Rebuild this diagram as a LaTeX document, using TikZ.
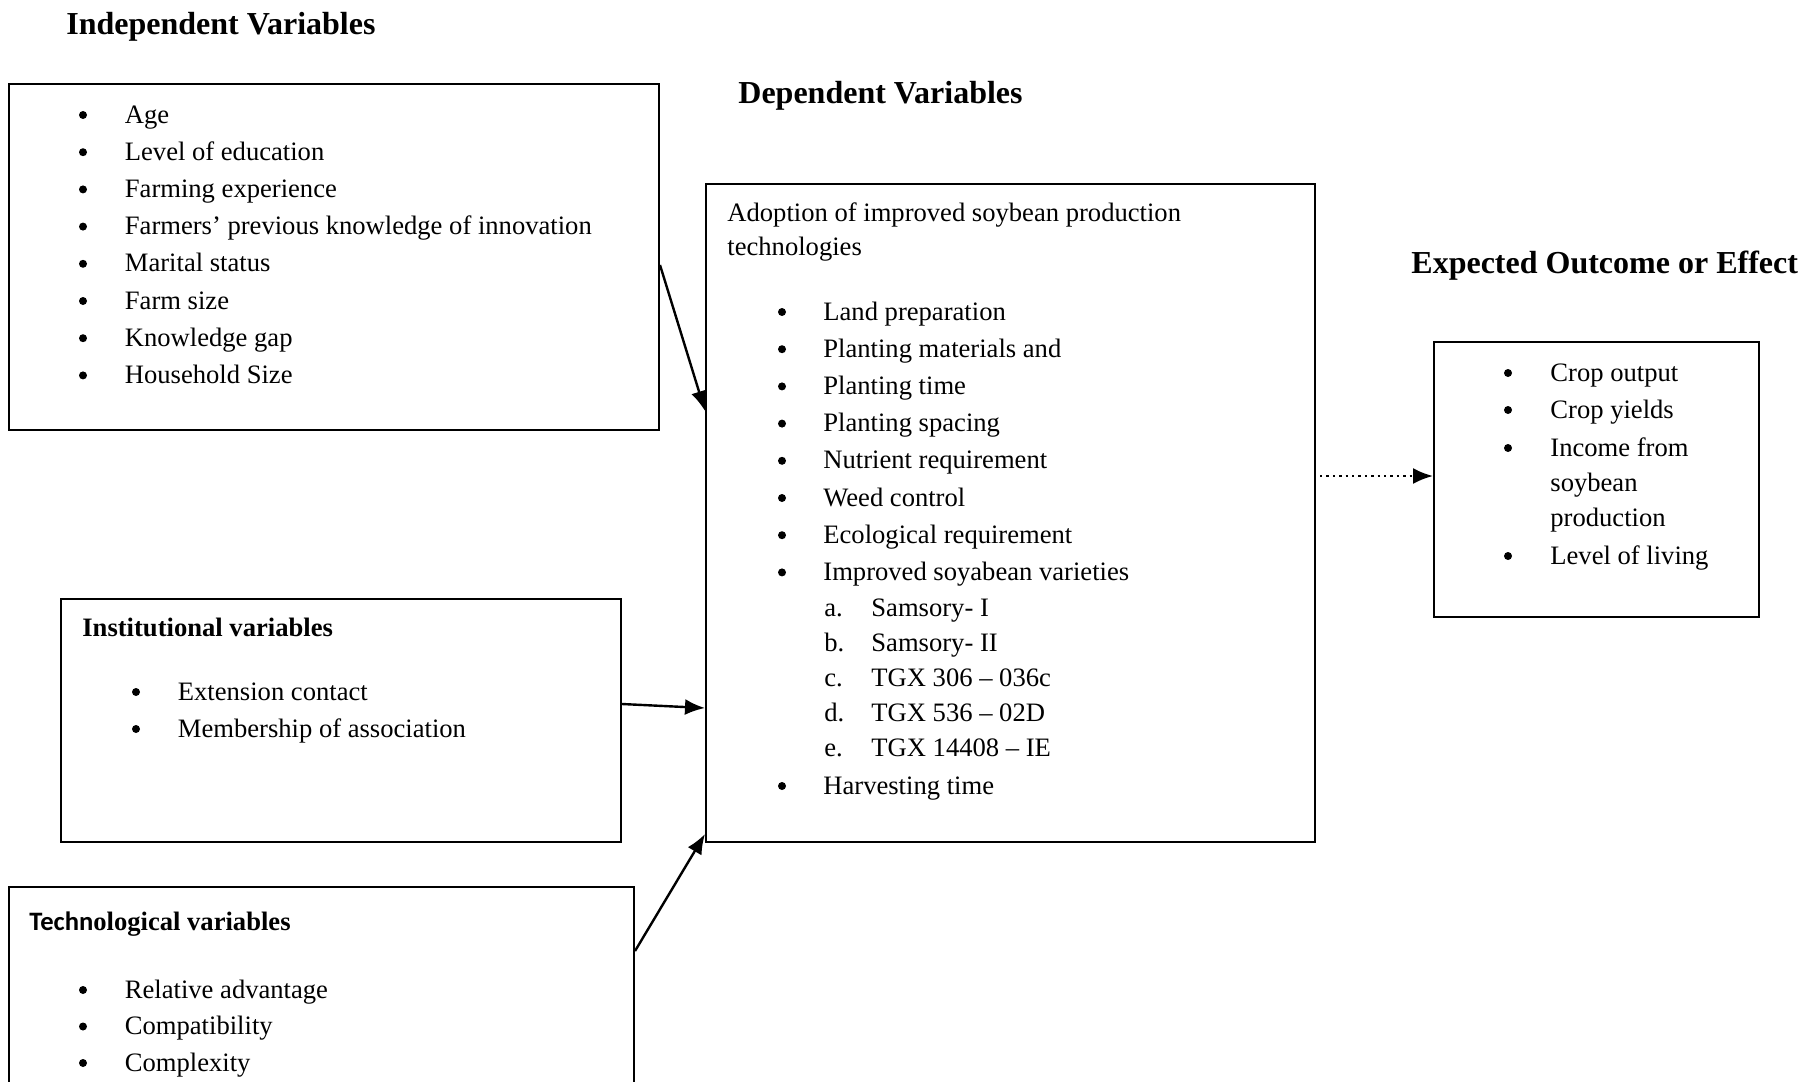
\documentclass[tikz,border=0pt]{standalone}
\usepackage{fontspec}
\setmainfont{Liberation Serif}
\newfontfamily\calibri{Carlito}
\usetikzlibrary{arrows.meta}
\begin{document}
\begin{tikzpicture}[x=0.5pt,y=-0.5pt,
  box/.style={draw, line width=1pt, inner sep=0pt},
  txt/.style={anchor=base west, inner sep=0pt, font=\fontsize{13.3}{16}\selectfont},
  bul/.style={circle, fill, inner sep=0pt, minimum size=4pt, yshift=4pt},
  head/.style={anchor=base west, inner sep=0pt, font=\bfseries\fontsize{16}{19}\selectfont},
  subhead/.style={anchor=base west, inner sep=0pt, font=\bfseries\fontsize{13.3}{16}\selectfont},
  arr/.style={line width=1.2pt, -{Latex[length=10pt,width=8pt]}}]
\useasboundingbox (0,0) rectangle (1807,1081);
\clip (0,0) rectangle (1807,1081);

% headings
\node[head] (hInd) at (66,34.5) {Independent Variables};
\node[head] (hDep) at (738,103.5) {Dependent Variables};
\node[head] (hOut) at (1411,273.5) {Expected Outcome or Effect};

% boxes
\node[box, minimum width=325pt, minimum height=173pt] (b1) at (334,257) {};
\node[box, minimum width=304.5pt, minimum height=329pt] (dep) at (1010.5,513) {};
\node[box, minimum width=162.5pt, minimum height=137.5pt] (out) at (1596.5,479.5) {};
\node[box, minimum width=280pt, minimum height=121.5pt] (inst) at (341,720.5) {};
\node[box, minimum width=312.5pt, minimum height=111.5pt] (tech) at (321.5,998.5) {};

% independent list
\foreach \t [count=\i] in {Age, Level of education, Farming experience,
  Farmers’ previous knowledge of innovation, Marital status, Farm size,
  Knowledge gap, Household Size} {
  \node[bul] (ib\i) at (83,{123+37.2*(\i-1)}) {};
  \node[txt] (it\i) at (124.5,{123+37.2*(\i-1)}) {\t};
}

% dependent
\node[txt] (dh1) at (727,221) {Adoption of improved soybean production};
\node[txt] (dh2) at (727,255) {technologies};
\foreach \t [count=\i] in {Land preparation, Planting materials and, Planting time,
  Planting spacing, Nutrient requirement, Weed control, Ecological requirement,
  Improved soyabean varieties} {
  \node[bul] (db\i) at (782,{320+37.2*(\i-1)}) {};
  \node[txt] (dt\i) at (823,{320+37.2*(\i-1)}) {\t};
}
\foreach \l/\t [count=\i] in {a./Samsory- I, b./Samsory- II, c./TGX 306 – 036c,
  d./TGX 536 – 02D, e./TGX 14408 – IE} {
  \node[txt] (sl\i) at (824,{616+35*(\i-1)}) {\l};
  \node[txt] (st\i) at (871,{616+35*(\i-1)}) {\t};
}
\node[bul] (db9) at (782,794) {};
\node[txt] (dt9) at (823,794) {Harvesting time};

% outcome
\node[bul] (ob1) at (1508,381) {};
\node[txt] (ot1) at (1550,381) {Crop output};
\node[bul] (ob2) at (1508,418) {};
\node[txt] (ot2) at (1550,418) {Crop yields};
\node[bul] (ob3) at (1508,456) {};
\node[txt] (ot3) at (1550,456) {Income from};
\node[txt] (ot3b) at (1550,491) {soybean};
\node[txt] (ot3c) at (1550,526) {production};
\node[bul] (ob4) at (1508,564) {};
\node[txt] (ot4) at (1550,564) {Level of living};

% institutional
\node[subhead] (insth) at (82,636) {Institutional variables};
\node[bul] (nb1) at (136,700) {};
\node[txt] (nt1) at (177.5,700) {Extension contact};
\node[bul] (nb2) at (136,737) {};
\node[txt] (nt2) at (177.5,737) {Membership of association};

% technological
\node[subhead] (techh) at (29,930) {{\calibri\bfseries Techn}ological variables};
\foreach \t [count=\i] in {Relative advantage, Compatibility, Complexity} {
  \node[bul] (tb\i) at (83,{998+36.5*(\i-1)}) {};
  \node[txt] (tt\i) at (124.5,{998+36.5*(\i-1)}) {\t};
}

% connectors
\coordinate (y1) at (0,265);
\coordinate (y2) at (0,411);
\coordinate (y3) at (0,704);
\coordinate (y4) at (0,708);
\coordinate (y5) at (0,951);
\coordinate (y6) at (0,834);
\coordinate (y7) at (0,476);
\draw[arr] (b1.east |- y1) -- (dep.west |- y2);
\draw[arr] (inst.east |- y3) -- (dep.west |- y4);
\draw[arr] (tech.east |- y5) -- (dep.west |- y6);
\draw[line width=1.2pt, dotted, -{Latex[length=10pt,width=8pt]}, shorten <=2pt] (dep.east |- y7) -- (out.west |- y7);
\end{tikzpicture}
\end{document}
